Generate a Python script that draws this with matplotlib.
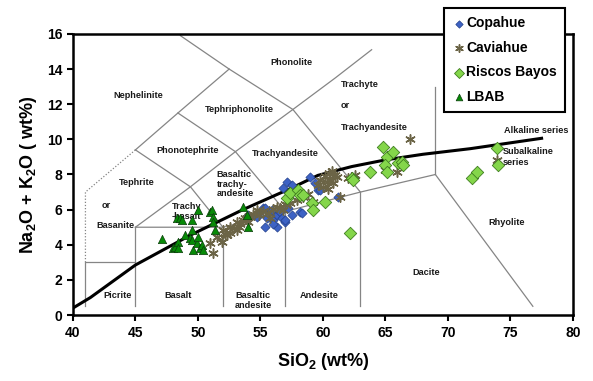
import matplotlib
matplotlib.use('Agg')
import matplotlib.pyplot as plt
import numpy as np

plt.rcParams['font.family'] = 'Liberation Sans'
plt.rcParams['font.weight'] = 'bold'
plt.rcParams['mathtext.fontset'] = 'custom'
plt.rcParams['mathtext.rm'] = 'Liberation Sans:bold'
plt.rcParams['mathtext.bf'] = 'Liberation Sans:bold'

# sample data (SiO2, Na2O+K2O)
cop_x = [54.7, 55.0, 55.2, 55.4, 55.5, 55.8, 55.9, 56.0, 56.3, 56.3, 56.6, 56.7, 56.8, 57.0, 57.0,
         57.1, 57.2, 57.5, 57.5, 58.2, 58.3, 59.0, 59.4, 59.6, 59.8, 61.2, 54.0, 55.4, 56.0]
cop_y = [5.6, 5.88, 6.07, 5.03, 5.5, 5.88, 5.98, 5.41, 5.69, 5.03, 5.88, 5.5, 7.21, 5.31, 5.41,
         7.59, 6.07, 5.69, 7.4, 5.88, 5.79, 7.88, 7.5, 7.12, 7.12, 6.74, 5.69, 6.07, 5.2]

cav_x = [51.0, 51.2, 51.5, 51.9, 52.0, 52.3, 52.6, 52.6, 52.9, 53.1, 53.1, 53.4, 53.6, 53.8, 54.0,
         54.2, 54.4, 54.7, 54.9, 55.2, 55.6, 56.0, 56.3, 56.6, 57.0, 57.4, 57.9, 58.4, 58.8, 59.2,
         59.6, 59.8, 60.0, 60.2, 60.3, 60.5, 60.6, 60.8, 61.0, 61.1, 60.4, 60.7, 61.4, 62.0, 62.6,
         65.0, 65.9, 67.0, 73.9, 56.8, 55.8, 53.3, 52.2]
cav_y = [4.08, 3.51, 4.46, 4.17, 4.84, 4.55, 5.03, 4.65, 4.95, 5.31, 4.84, 5.2, 5.41, 5.5, 5.3,
         5.6, 5.75, 5.98, 5.7, 5.9, 5.8, 6.05, 6.17, 6.1, 6.3, 6.36, 6.55, 6.74, 6.9, 6.45,
         7.4, 7.7, 7.31, 7.9, 7.6, 8.1, 7.69, 7.5, 7.95, 7.88, 7.2, 8.2, 6.74, 7.78, 7.97,
         8.26, 8.16, 10.0, 8.83, 6.0, 5.5, 5.0, 4.6]

rb_x = [57.1, 57.4, 58.0, 58.2, 58.4, 59.1, 59.2, 60.2, 62.3, 62.4, 63.8, 64.8, 65.1, 65.6, 65.0,
        66.0, 66.3, 66.4, 65.1, 62.2, 71.9, 72.3, 73.9, 74.0]
rb_y = [6.64, 6.93, 7.12, 6.83, 6.83, 6.36, 5.98, 6.45, 7.78, 7.69, 8.16, 9.59, 9.02, 9.3, 8.54,
        8.64, 8.73, 8.54, 8.16, 4.65, 7.78, 8.16, 9.49, 8.54]

lb_x = [47.1, 48.0, 48.2, 48.3, 48.4, 48.4, 48.6, 48.7, 49.0, 49.4, 49.5, 49.5, 49.5, 49.6, 49.9,
        50.0, 50.0, 50.2, 50.3, 50.4, 51.0, 51.1, 51.2, 51.2, 51.4, 53.6, 53.9, 54.0]
lb_y = [4.33, 3.8, 3.89, 5.5, 4.17, 3.8, 5.52, 5.41, 4.56, 4.37, 5.41, 4.84, 4.27, 3.7, 4.08,
        5.98, 4.46, 3.8, 3.99, 3.7, 5.88, 5.98, 5.6, 5.31, 4.84, 6.17, 5.69, 5.03]

# alkaline / subalkaline divide
curve_x = [40, 41.4, 45, 49.4, 53.6, 57.4, 59.6, 62.3, 65, 68, 71.8, 77.5]
curve_y = [0.4, 1.0, 2.85, 4.55, 6.0, 7.2, 7.95, 8.45, 8.83, 9.15, 9.47, 10.06]

# TAS field boundaries (solid)
tas_lines = [
    [(45, 9.4), (48.4, 11.5), (52.5, 14)],
    [(48.6, 15.9), (52.5, 14), (57.6, 11.7), (63, 7)],
    [(45, 5), (49.4, 7.3), (53, 9.3), (57.6, 11.7), (61, 13.5), (63.9, 15.1)],
    [(45, 9.4), (49.4, 7.3), (52, 5)],
    [(48.4, 11.5), (53, 9.3), (57, 5.9)],
    [(45, 5), (52, 5), (57, 5.9), (63, 7), (69, 8)],
    [(69, 8), (69, 13)],
    [(69, 8), (76.8, 0.5)],
    [(41, 0.5), (41, 3), (45, 3)],
    [(45, 0.5), (45, 5)],
    [(52, 0.5), (52, 5)],
    [(57, 0.5), (57, 5.9)],
    [(63, 0.5), (63, 7)],
]
tas_dotted = [(41, 3), (41, 7), (45, 9.4)]

field_labels = [
    ('Nephelinite', 45.2, 12.5, 'center'),
    ('Phonolite', 57.5, 14.4, 'center'),
    ('Tephriphonolite', 53.3, 11.7, 'center'),
    ('Trachyte', 61.4, 13.1, 'left'),
    ('or', 61.4, 11.9, 'left'),
    ('Trachyandesite', 61.4, 10.7, 'left'),
    ('Phonotephrite', 49.2, 9.35, 'center'),
    ('Trachyandesite', 57.0, 9.2, 'center'),
    ('Tephrite', 45.1, 7.55, 'center'),
    ('or', 42.7, 6.25, 'center'),
    ('Basanite', 43.4, 5.1, 'center'),
    ('Basaltic', 51.5, 8.0, 'left'),
    ('trachy-', 51.5, 7.45, 'left'),
    ('andesite', 51.5, 6.9, 'left'),
    ('Trachy', 49.1, 6.2, 'center'),
    ('-basalt', 49.1, 5.6, 'center'),
    ('Picrite', 43.6, 1.1, 'center'),
    ('Basalt', 48.4, 1.1, 'center'),
    ('Basaltic', 54.4, 1.1, 'center'),
    ('andesite', 54.4, 0.55, 'center'),
    ('Andesite', 59.7, 1.1, 'center'),
    ('Dacite', 68.3, 2.4, 'center'),
    ('Rhyolite', 74.7, 5.25, 'center'),
    ('Alkaline series', 77.1, 10.5, 'center'),
    ('Subalkaline', 74.4, 9.3, 'left'),
    ('series', 74.4, 8.7, 'left'),
]

fig = plt.figure(figsize=(5.93, 3.81), dpi=100)
ax = fig.add_axes([0.123, 0.173, 0.843, 0.738])

gray = '#858585'
for seg in tas_lines:
    xs, ys = zip(*seg)
    ax.plot(xs, ys, color=gray, lw=0.9, zorder=1)
xs, ys = zip(*tas_dotted)
ax.plot(xs, ys, color=gray, lw=0.9, ls=(0, (1, 1.5)), zorder=1)

for txt, x, y, ha in field_labels:
    ax.text(x, y, txt, fontsize=6.6, fontweight='bold', ha=ha, va='center',
            color='#1a1a1a', zorder=1)

ax.plot(curve_x, curve_y, color='black', lw=2.2, zorder=2)

ax.scatter(cop_x, cop_y, marker='D', s=22, color='#3d62c4', edgecolors='#22408a',
           linewidths=0.5, label='Copahue', zorder=3)
ax.scatter(cav_x, cav_y, marker=(6, 2, 0), s=45, color='#6b6446', linewidths=1.1,
           label='Caviahue', zorder=4)
ax.scatter(rb_x, rb_y, marker='D', s=40, color='#84d64a', edgecolors='#3f7d1f',
           linewidths=0.6, label='Riscos Bayos', zorder=5)
ax.scatter(lb_x, lb_y, marker='^', s=36, color='#078a07', edgecolors='#0b3d0b',
           linewidths=0.5, label='LBAB', zorder=6)

ax.set_xlim(40, 80)
ax.set_ylim(0, 16)
ax.set_xticks(np.arange(40, 81, 5))
ax.set_yticks(np.arange(0, 17, 2))
ax.tick_params(labelsize=10, width=1.5, length=4, direction='out')
for lbl in ax.get_xticklabels() + ax.get_yticklabels():
    lbl.set_fontweight('bold')
for sp in ax.spines.values():
    sp.set_linewidth(1.8)

ax.set_xlabel(r'SiO$_\mathbf{2}$ (wt%)', fontsize=13, fontweight='bold', labelpad=8)
ax.set_ylabel(r'Na$_\mathbf{2}$O + K$_\mathbf{2}$O ( wt%)', fontsize=13, fontweight='bold',
              labelpad=6)

leg = ax.legend(loc='upper left', bbox_to_anchor=(0.749, 0.979), bbox_transform=fig.transFigure,
                borderaxespad=0, frameon=True, fancybox=False, framealpha=1, edgecolor='black',
                prop={'weight': 'bold', 'size': 10}, handletextpad=0.1, labelspacing=0.75,
                handlelength=0.9, borderpad=0.6, markerscale=0.8)
leg.get_frame().set_linewidth(1.5)
leg.set_zorder(10)

plt.savefig('out.png', dpi=100)
